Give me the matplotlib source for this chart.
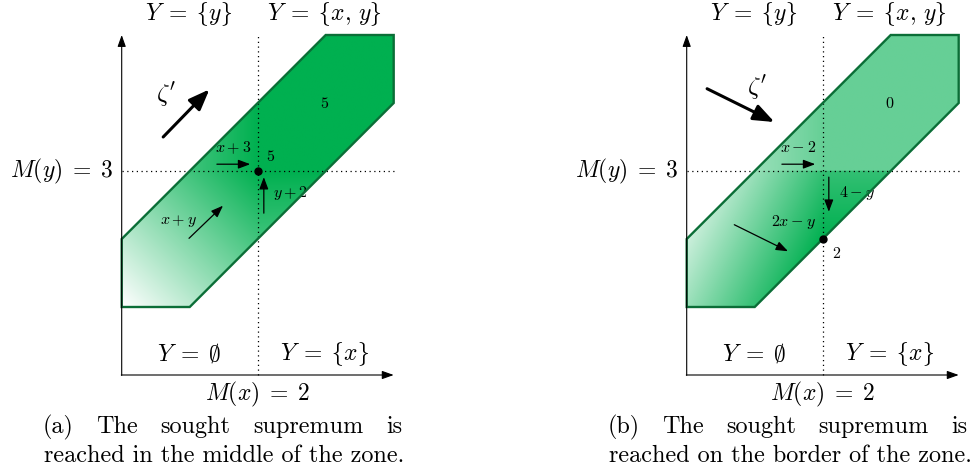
import numpy as np
import matplotlib
matplotlib.use("Agg")
import matplotlib.pyplot as plt
from matplotlib.patches import Polygon
from matplotlib.colors import LinearSegmentedColormap, Normalize
from matplotlib.transforms import IdentityTransform

plt.rcParams['mathtext.fontset'] = 'cm'

# ---------------- data ----------------
zone_x = [0, 0, 1, 4, 4, 3]
zone_y = [2, 1, 1, 4, 5, 5]
Mx, My = 2, 3
axis_x_end, axis_y_end = 4.0, 5.0

# text-size braces from cmsy10 (positions 'f' and 'g' hold { and })
LB, RB = r'\mathcal{f}', r'\mathcal{g}'
top_labels = [r'$Y\;=\;' + LB + 'y' + RB + '$',
              r'$Y\;=\;' + LB + r'x,\,y' + RB + '$']
bottom_labels = [r'$Y\;=\;\emptyset$', r'$Y\;=\;' + LB + 'x' + RB + '$']
left_label = r'$M(y)\;=\;3$'
below_label = r'$M(x)\;=\;2$'

# panel (a): zone values
a_region_exprs = [r'$x+y$', r'$x+3$', r'$y+2$', '$5$']
a_point_value = '$5$'
a_point = (2, 3)
# panel (b)
b_region_exprs = [r'$2x-y$', r'$x-2$', r'$4-y$', '$0$']
b_point_value = '$2$'
b_point = (2, 2)

captions = {
    'a': [["(a)", "The", "sought", "supremum", "is"],
          "reached in the middle of the zone."],
    'b': [["(b)", "The", "sought", "supremum", "is"],
          "reached on the border of the zone."],
}

GREEN = '#00B050'
EDGE = '#0B6E37'
cmap = LinearSegmentedColormap.from_list('wg', ['#FFFFFF', GREEN])

W, H = 974, 473
S = 68.0          # px per unit
OY = 375.0        # pixel row of y=0 (from top)

fig = plt.figure(figsize=(W / 100, H / 100), dpi=100)


def make_axes(left_px, ox):
    ax = fig.add_axes([left_px / W, 0, 487 / W, 1])
    ax.set_xlim((left_px - ox) / S, (left_px + 487 - ox) / S)
    ax.set_ylim((OY - H) / S, OY / S)
    ax.set_aspect('auto')
    ax.axis('off')
    return ax


def shading(ax, values, norm):
    poly = Polygon(np.column_stack([zone_x, zone_y]), closed=True,
                   facecolor='none', edgecolor=EDGE, lw=1.7, zorder=4,
                   joinstyle='miter')
    ax.add_patch(poly)
    im = ax.imshow(values, extent=(min(zone_x), max(zone_x), min(zone_y), max(zone_y)),
                   origin='lower', cmap=cmap, norm=norm, interpolation='bilinear',
                   zorder=1, aspect='auto')
    im.set_clip_path(poly)


def frame(ax):
    # dotted guides
    ax.plot([Mx, Mx], [0, axis_y_end], ls=(0, (1, 2.8)), color='k', lw=0.9, zorder=3)
    ax.plot([0, axis_x_end], [My, My], ls=(0, (1, 2.8)), color='k', lw=0.9, zorder=3)
    # axes arrows
    ap = dict(arrowstyle='-|>,head_length=0.7,head_width=0.25', lw=0.8, color='k',
              shrinkA=0, shrinkB=0, mutation_scale=10)
    ax.annotate('', xy=(axis_x_end, 0), xytext=(-0.006, 0), arrowprops=ap, zorder=5)
    ax.annotate('', xy=(0, axis_y_end), xytext=(0, -0.006), arrowprops=ap, zorder=5)
    fs = 17
    ax.text(0.99, 5.31, top_labels[0], fontsize=fs, ha='center', va='center')
    ax.text(2.975, 5.31, top_labels[1], fontsize=fs, ha='center', va='center')
    ax.text(1.0, 0.31, bottom_labels[0], fontsize=fs, ha='center', va='center')
    ax.text(2.99, 0.31, bottom_labels[1], fontsize=fs, ha='center', va='center')
    ax.text(-0.12, My, left_label, fontsize=fs, ha='right', va='center')
    ax.text(Mx, -0.29, below_label, fontsize=fs, ha='center', va='center')


def arrow(ax, p0, p1, lw=0.9, ms=9, head='head_length=0.8,head_width=0.3'):
    ax.annotate('', xy=p1, xytext=p0,
                arrowprops=dict(arrowstyle='-|>,' + head, lw=lw, color='k',
                                shrinkA=0, shrinkB=0, mutation_scale=ms), zorder=6)


xs = np.linspace(min(zone_x), max(zone_x), 401)
ys = np.linspace(min(zone_y), max(zone_y), 401)
X, Y = np.meshgrid(xs, ys)
left = X <= Mx
low = Y <= My
conds = [left & low, left & ~low, ~left & low]

sf = 11.5

# ---------- panel (a) ----------
axa = make_axes(0, 121.7)
va = np.select(conds, [X + Y, X + 3, Y + 2], default=5)
shading(axa, va, Normalize(1, 5))
frame(axa)
axa.text(2.99, 4.0, a_region_exprs[3], fontsize=sf, ha='center', va='center')
axa.text(2.19, 3.21, a_point_value, fontsize=sf, ha='center', va='center')
axa.text(1.64, 3.34, a_region_exprs[1], fontsize=sf, ha='center', va='center')
arrow(axa, (1.40, 3.10), (1.89, 3.10))
axa.text(2.48, 2.68, a_region_exprs[2], fontsize=sf, ha='center', va='center')
arrow(axa, (2.09, 2.38), (2.09, 2.91))
axa.text(0.83, 2.27, a_region_exprs[0], fontsize=sf, ha='center', va='center')
arrow(axa, (0.99, 2.01), (1.49, 2.49))
axa.plot(*a_point, 'o', color='k', ms=5, zorder=7)
arrow(axa, (0.61, 3.50), (1.29, 4.20), lw=2.2, ms=14, head='head_length=0.9,head_width=0.35')
axa.text(0.66, 4.12, r"$\zeta'$", fontsize=18, ha='center', va='center')

# ---------- panel (b) ----------
axb = make_axes(487, 686.7)
vb = np.select(conds, [2 * X - Y, X - 2, 4 - Y], default=0)
shading(axb, vb, Normalize(-3, 2))
frame(axb)
axb.text(2.99, 4.0, b_region_exprs[3], fontsize=sf, ha='center', va='center')
axb.text(1.64, 3.34, b_region_exprs[1], fontsize=sf, ha='center', va='center')
arrow(axb, (1.40, 3.10), (1.89, 3.10))
axb.text(2.50, 2.68, b_region_exprs[2], fontsize=sf, ha='center', va='center')
arrow(axb, (2.09, 2.91), (2.09, 2.40))
axb.text(1.57, 2.25, b_region_exprs[0], fontsize=sf, ha='center', va='center')
arrow(axb, (0.70, 2.21), (1.49, 1.82))
axb.plot(*b_point, 'o', color='k', ms=5, zorder=7)
axb.text(2.20, 1.78, b_point_value, fontsize=sf, ha='center', va='center')
arrow(axb, (0.30, 4.21), (1.29, 3.72), lw=2.2, ms=14, head='head_length=0.9,head_width=0.35')
axb.text(1.03, 4.22, r"$\zeta'$", fontsize=18, ha='center', va='center')

# ---------- captions (justified first line) ----------
renderer = fig.canvas.get_renderer()
CFS = 17.4
ident = IdentityTransform()


def caption(x0, key, width=359):
    words, line2 = captions[key]
    ts = [fig.text(0, 0, w, fontsize=CFS, family='cmr10', transform=ident,
                   va='baseline', ha='left') for w in words]
    widths = [t.get_window_extent(renderer).width for t in ts]
    gap = (width - sum(widths)) / (len(words) - 1)
    x = x0
    for t, w in zip(ts, widths):
        t.set_position((x, H - 433))
        x += w + gap
    fig.text(x0 + 1, H - 462, line2, fontsize=CFS, family='cmr10', transform=ident,
             va='baseline', ha='left')


caption(43, 'a')
caption(608, 'b')

fig.savefig('out.png', dpi=100)
